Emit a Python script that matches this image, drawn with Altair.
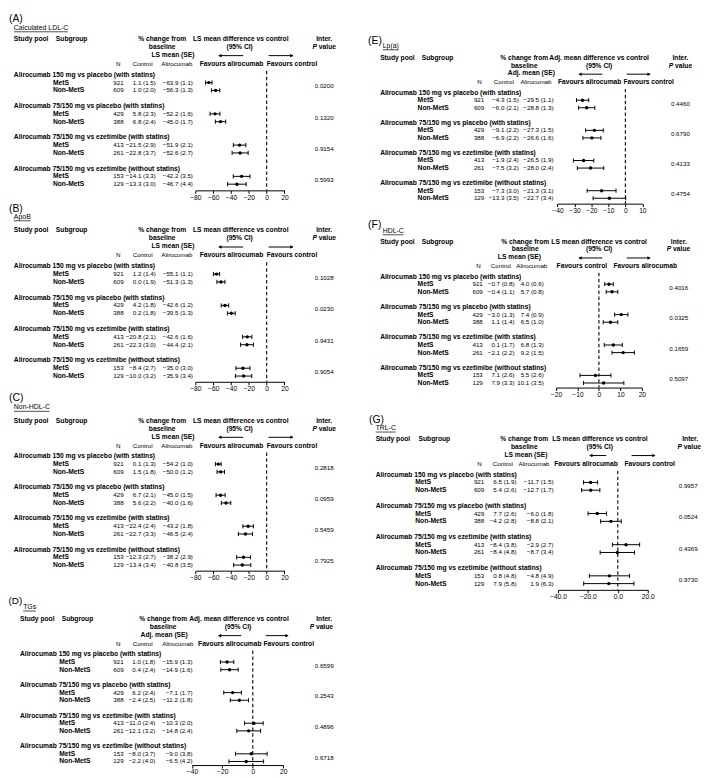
import altair as alt
import pandas as pd

# ---------------------------------------------------------------- data
GROUPS = ["Alirocumab 150 mg vs placebo (with statins)",
          "Alirocumab 75/150 mg vs placebo (with statins)",
          "Alirocumab 75/150 mg vs ezetimibe (with statins)",
          "Alirocumab 75/150 mg vs ezetimibe (without statins)"]
SUBGROUPS = ["MetS", "Non-MetS"]
N = [921, 609, 429, 388, 413, 261, 153, 129]

# (A) Calculated LDL-C
LDL_CONTROL = ["1.1 (1.5)", "1.0 (2.0)", "5.8 (2.3)", "6.8 (2.4)", "−21.5 (2.9)", "−22.8 (3.7)", "−14.1 (3.3)", "−13.3 (3.0)"]
LDL_ALIRO = ["−63.9 (1.1)", "−56.3 (1.3)", "−52.2 (1.6)", "−45.0 (1.7)", "−51.9 (2.1)", "−52.6 (2.7)", "−42.2 (3.5)", "−46.7 (4.4)"]
LDL_DIFF = [-65.0, -57.3, -58.0, -51.8, -30.4, -29.8, -28.1, -33.4]
LDL_LO = [-68.6, -62.0, -63.5, -57.6, -37.4, -38.8, -37.5, -43.8]
LDL_HI = [-61.4, -52.6, -52.5, -46.0, -23.4, -20.8, -18.7, -23.0]
LDL_P = ["0.0200", "0.1320", "0.9154", "0.5993"]

# (B) ApoB
APOB_CONTROL = ["1.2 (1.4)", "0.0 (1.9)", "4.2 (1.8)", "0.2 (1.8)", "−20.8 (2.1)", "−22.3 (3.0)", "−8.4 (2.7)", "−10.0 (3.2)"]
APOB_ALIRO = ["−55.1 (1.1)", "−51.3 (1.3)", "−42.6 (1.2)", "−39.5 (1.3)", "−42.6 (1.6)", "−44.4 (2.1)", "−35.0 (3.0)", "−35.9 (3.4)"]
APOB_DIFF = [-56.3, -51.3, -46.8, -39.7, -21.8, -22.1, -26.6, -25.9]
APOB_LO = [-59.8, -55.8, -51.0, -44.1, -27.0, -29.3, -34.5, -35.1]
APOB_HI = [-52.8, -46.8, -42.6, -35.3, -16.6, -14.9, -18.7, -16.7]
APOB_P = ["0.1028", "0.0230", "0.9431", "0.9054"]

# (C) Non-HDL-C
NHDL_CONTROL = ["0.1 (1.3)", "1.5 (1.8)", "6.7 (2.1)", "5.6 (2.2)", "−22.4 (2.4)", "−22.7 (3.3)", "−12.3 (2.7)", "−13.4 (3.4)"]
NHDL_ALIRO = ["−54.2 (1.0)", "−50.0 (1.2)", "−45.0 (1.5)", "−40.0 (1.6)", "−43.2 (1.8)", "−46.5 (2.4)", "−38.2 (2.9)", "−40.8 (3.5)"]
NHDL_DIFF = [-54.3, -51.5, -51.7, -45.6, -20.8, -23.8, -25.9, -27.4]
NHDL_LO = [-57.5, -55.7, -56.8, -50.9, -26.7, -31.8, -33.7, -37.0]
NHDL_HI = [-51.1, -47.3, -46.6, -40.3, -14.9, -15.8, -18.1, -17.8]
NHDL_P = ["0.2818", "0.0959", "0.5459", "0.7925"]

# (D) TGs
TG_CONTROL = ["1.0 (1.8)", "0.4 (2.4)", "6.2 (2.4)", "−2.4 (2.5)", "−11.0 (2.4)", "−12.1 (3.2)", "−8.0 (3.7)", "−2.2 (4.0)"]
TG_ALIRO = ["−15.9 (1.3)", "−14.9 (1.6)", "−7.1 (1.7)", "−11.2 (1.8)", "−10.3 (2.0)", "−14.8 (2.4)", "−9.0 (3.8)", "−6.5 (4.2)"]
TG_DIFF = [-16.9, -15.3, -13.3, -8.8, 0.7, -2.7, -1.0, -4.3]
TG_LO = [-21.3, -21.0, -19.1, -14.8, -5.4, -10.5, -11.4, -15.7]
TG_HI = [-12.5, -9.6, -7.5, -2.8, 6.8, 5.1, 9.4, 7.1]
TG_P = ["0.6599", "0.2543", "0.4896", "0.6718"]

# (E) Lp(a)
LPA_CONTROL = ["−4.3 (1.5)", "−6.0 (2.1)", "−9.1 (2.2)", "−6.9 (2.2)", "−1.9 (2.4)", "−7.5 (3.2)", "−7.3 (3.0)", "−13.3 (3.5)"]
LPA_ALIRO = ["−29.5 (1.1)", "−28.8 (1.3)", "−27.3 (1.5)", "−26.6 (1.6)", "−26.5 (1.9)", "−28.0 (2.4)", "−21.3 (3.1)", "−22.7 (3.4)"]
LPA_DIFF = [-25.2, -22.8, -18.2, -19.7, -24.6, -20.5, -14.0, -9.4]
LPA_LO = [-28.8, -27.6, -23.4, -25.0, -30.6, -28.3, -22.5, -19.0]
LPA_HI = [-21.6, -18.0, -13.0, -14.4, -18.6, -12.7, -5.5, 0.2]
LPA_P = ["0.4460", "0.6790", "0.4133", "0.4754"]

# (F) HDL-C
HDL_CONTROL = ["−0.7 (0.8)", "−0.4 (1.1)", "−3.0 (1.3)", "1.1 (1.4)", "0.1 (1.7)", "−2.1 (2.2)", "7.1 (2.6)", "7.9 (3.3)"]
HDL_ALIRO = ["4.0 (0.6)", "5.7 (0.8)", "7.4 (0.9)", "6.5 (1.0)", "6.8 (1.3)", "9.2 (1.5)", "5.5 (2.6)", "10.1 (3.5)"]
HDL_DIFF = [4.7, 6.1, 10.4, 5.4, 6.7, 11.3, -1.6, 2.2]
HDL_LO = [2.7, 3.4, 7.3, 2.0, 2.5, 6.1, -8.8, -7.2]
HDL_HI = [6.7, 8.8, 13.5, 8.8, 10.9, 16.5, 5.6, 11.6]
HDL_P = ["0.4016", "0.0325", "0.1659", "0.5097"]

# (G) TRL-C
TRL_CONTROL = ["6.5 (1.9)", "5.4 (2.6)", "7.7 (2.6)", "−4.2 (2.8)", "−8.4 (3.8)", "−8.4 (4.8)", "0.8 (4.8)", "7.9 (5.8)"]
TRL_ALIRO = ["−11.7 (1.5)", "−12.7 (1.7)", "−6.0 (1.8)", "−8.8 (2.1)", "−2.9 (2.7)", "−8.7 (3.4)", "−4.8 (4.9)", "1.9 (6.3)"]
TRL_DIFF = [-18.2, -18.1, -13.7, -4.6, 5.5, -0.3, -5.6, -6.0]
TRL_LO = [-22.9, -24.2, -19.9, -11.5, -3.6, -11.8, -19.0, -22.8]
TRL_HI = [-13.5, -12.0, -7.5, 2.3, 14.6, 11.2, 7.8, 10.8]
TRL_P = ["0.9957", "0.0524", "0.4369", "0.9730"]

# axis ticks
TICKS_80 = [-80, -60, -40, -20, 0, 20]
TICKS_TG = [-40, -20, 0, 20]
TICKS_LPA = [-40, -30, -20, -10, 0, 10]
TICKS_HDL = [-20, -10, 0, 10, 20]
TICKS_TRL = [-40, -20, 0, 20]

LS_MEAN = "LS mean (SE)"
ADJ_MEAN = "Adj. mean (SE)"
LS_DIFF = "LS mean difference vs control"
ADJ_DIFF = "Adj. mean difference vs control"
FAV_A = "Favours alirocumab"
FAV_C = "Favours control"

# ---------------------------------------------------------------- layout
FONT = "Liberation Sans"
FS = 6.3      # numbers / regular table text
FSB = 6.8     # bold headings
LABEL_FS = 10.5
W, H = 701, 770
SX, SY = 0.99, 0.991


def X(v):
    return round((v - 2.0) * SX, 2)


def Y(v):
    return round((v - 1.0) * SY, 2)


H1, H2, H3, ARR, COL, DASH = -4.58, -3.57, -2.55, -2.45, -1.37, -0.5
ROWS = [4 * g + k + 1 for g in range(4) for k in range(2)]
GROUP_ROWS = [4 * g for g in range(4)]
P_ROWS = [4 * g + 1.5 for g in range(4)]

LEFT = dict(label_x=2, label_fs=LABEL_FS, title_x=7, study_x=7, subgroup_x=50, pct_c=159, base_c=159, mean_c=170,
            big_c=239.5, ci_c=238.3, arrL=(217, 242), arrR=(268, 293), inter_c=325, pval_c=325,
            n_hdr=114, ctrl_hdr=139, aliro_hdr=174, fav1_c=230, fav2_c=292,
            grp_x=7, sub_x=47, n_r=119.5, ctrl_r=152.5, aliro_r=190.5, p_c=325, xr=(193, 284.3))
LAY_A = dict(LEFT, y0=61.7, unit=8.0, label_row=-7.1, title_row=-6.0, axis=14.79)
LAY_B = dict(LEFT, y0=257.7, unit=8.03, label_row=-7.3, title_row=-6.3, axis=14.73)
LAY_C = dict(LEFT, y0=452.3, unit=7.95, label_row=-7.55, title_row=-6.3, axis=14.72)
LAY_D = dict(label_x=1.5, label_fs=10, title_x=16.5, study_x=13.3, subgroup_x=56, pct_c=160, base_c=160, mean_c=161,
             big_c=237.7, ci_c=236.7, arrL=(216.7, 240), arrR=(265, 288), inter_c=325, pval_c=322,
             n_hdr=114, ctrl_hdr=139, aliro_hdr=175, fav1_c=228.3, fav2_c=288.7,
             grp_x=13.3, sub_x=53.5, n_r=119.5, ctrl_r=152, aliro_r=190, p_c=325, xr=(189.5, 283),
             y0=655, unit=7.83, label_row=-7.0, title_row=-6.17, axis=14.47)
LAY_E = dict(label_x=370, label_fs=LABEL_FS, title_x=385, study_x=382.3, subgroup_x=425, pct_c=530, base_c=530, mean_c=537.3,
             big_c=606.7, ci_c=606.7, arrL=(586, 610), arrR=(635, 659), inter_c=690, pval_c=690,
             n_hdr=484, ctrl_hdr=509, aliro_hdr=542, fav1_c=597, fav2_c=657.5,
             grp_x=382.3, sub_x=420.7, n_r=489, ctrl_r=524.5, aliro_r=560, p_c=690, xr=(564, 651),
             y0=80, unit=7.72, label_row=-6.9, title_row=-6.18, axis=14.72)
LAY_F = dict(label_x=370, label_fs=LABEL_FS, title_x=385, study_x=382.3, subgroup_x=425, pct_c=531, base_c=531, mean_c=525,
             big_c=606.7, ci_c=606.7, arrL=(586, 610), arrR=(635, 659), inter_c=688.3, pval_c=688,
             n_hdr=483, ctrl_hdr=506, aliro_hdr=537.7, fav1_c=589, fav2_c=654,
             grp_x=382.3, sub_x=420.7, n_r=487.5, ctrl_r=520, aliro_r=550, p_c=688.3, xr=(562.5, 650.5),
             y0=268.3, unit=7.78, label_row=-6.8, title_row=-6.0, axis=14.6)
LAY_G = dict(label_x=371, label_fs=LABEL_FS, title_x=377.7, study_x=377.7, subgroup_x=421.7, pct_c=530, base_c=530, mean_c=531.7,
             big_c=607.5, ci_c=607.3, arrL=(597, 614), arrR=(640, 664), inter_c=700, pval_c=699,
             n_hdr=484, ctrl_hdr=508, aliro_hdr=540, fav1_c=593.3, fav2_c=658.5,
             grp_x=377.7, sub_x=418.3, n_r=489, ctrl_r=522, aliro_r=560, p_c=698, xr=(564.5, 656.5),
             y0=471, unit=7.97, label_row=-7.0, title_row=-5.97, axis=14.8)

ARIAL = {'C': 722, 'a': 556, 'l': 222, 'c': 500, 'u': 556, 't': 278, 'e': 556, 'd': 556, ' ': 278,
         'L': 556, 'D': 722, '-': 333, 'A': 667, 'p': 556, 'o': 556, 'B': 667, 'N': 722, 'n': 556,
         'H': 722, 'T': 611, 'G': 778, 's': 500, '(': 333, ')': 333, 'R': 722}


def text_width(s, size):
    return sum(ARIAL.get(c, 556) for c in s) / 1000.0 * size


def build_panel(L, label, title, mean_lbl, big_lbl, fav, domain, ticks, fmt,
                ctrl, aliro, diff, lo, hi, pvals):
    y0, u = L["y0"], L["unit"]
    ysc = alt.Scale(domain=[-9, 16], range=[Y(y0 - 9 * u), Y(y0 + 16 * u)], nice=False, zero=False)
    xsc = alt.Scale(domain=domain, range=[X(L["xr"][0]), X(L["xr"][1])], nice=False, zero=False)
    axis_ref = y0 + L["axis"] * u
    axis = alt.Axis(orient="bottom", offset=round(Y(axis_ref) - H, 2), values=ticks, format=fmt,
                    title=None, grid=False, domainColor="black", domainWidth=1, tickColor="black",
                    tickWidth=1, tickSize=3, labelFontSize=FSB, labelFont=FONT, labelColor="black",
                    labelPadding=1, labelFlush=False, labelOverlap=False)
    layers = []

    def yenc(f="row"):
        return alt.Y(f"{f}:Q", scale=ysc, axis=None)

    def xenc(f):
        return alt.X(f"{f}:Q", scale=xsc, axis=axis)

    def text(rows, texts, x, align="left", bold=False, size=FS, italic=False):
        df = pd.DataFrame({"row": list(rows), "t": [str(t) for t in texts]})
        props = dict(align=align, baseline="middle", font=FONT, fontSize=size, color="black",
                     fontWeight="bold" if bold else "normal")
        if italic:
            props["fontStyle"] = "italic"
        layers.append(alt.Chart(df).mark_text(**props).encode(
            x=alt.value(X(x)), y=yenc(), text="t:N"))

    def hline(row, x0, x1, width=1.0):
        df = pd.DataFrame({"row": [row]})
        layers.append(alt.Chart(df).mark_rule(color="black", strokeWidth=width).encode(
            x=alt.value(X(x0)), x2=alt.value(X(x1)), y=yenc()))

    def head(row, x, shape):
        df = pd.DataFrame({"row": [row]})
        layers.append(alt.Chart(df).mark_point(shape=shape, filled=True, size=13, color="black",
                                               opacity=1, strokeWidth=0).encode(
            x=alt.value(X(x)), y=yenc()))

    # panel label + title
    text([L["label_row"]], [label], L["label_x"], size=L["label_fs"])
    text([L["title_row"]], [title], L["title_x"], size=7)
    hline(L["title_row"] + 0.5, L["title_x"], L["title_x"] + text_width(title, 7), width=0.7)

    # header block
    text([H1], ["Study pool"], L["study_x"], bold=True, size=FSB)
    text([H1], ["Subgroup"], L["subgroup_x"], bold=True, size=FSB)
    text([H1], ["% change from"], L["pct_c"], align="center", bold=True, size=FSB)
    text([H2], ["baseline"], L["base_c"], align="center", bold=True, size=FSB)
    text([H3], [mean_lbl], L["mean_c"], align="center", bold=True, size=FSB)
    text([H1], [big_lbl], L["big_c"], align="center", bold=True, size=FSB)
    text([H2], ["(95% CI)"], L["ci_c"], align="center", bold=True, size=FSB)
    text([H1], ["Inter."], L["inter_c"], align="center", bold=True, size=FSB)
    pv_w = (667 + 278 + 556 + 556 + 278 + 611 + 556) / 1000.0 * FSB
    start = L["pval_c"] - pv_w / 2
    text([H2], ["P"], start, bold=True, italic=True, size=FSB)
    text([H2], ["value"], start + (667 + 278) / 1000.0 * FSB, bold=True, size=FSB)

    # arrows
    hline(ARR, L["arrL"][0], L["arrL"][1])
    head(ARR, L["arrL"][0] + 1.2, "triangle-left")
    hline(ARR, L["arrR"][0], L["arrR"][1])
    head(ARR, L["arrR"][1] - 1.2, "triangle-right")

    # column headers
    text([COL], ["N"], L["n_hdr"], align="center")
    text([COL], ["Control"], L["ctrl_hdr"], align="center")
    text([COL], ["Alirocumab"], L["aliro_hdr"], align="center")
    text([COL], [fav[0]], L["fav1_c"], align="center", bold=True, size=FSB)
    text([COL], [fav[1]], L["fav2_c"], align="center", bold=True, size=FSB)

    # table body
    text(GROUP_ROWS, GROUPS, L["grp_x"], bold=True, size=FSB)
    text(ROWS, SUBGROUPS * 4, L["sub_x"], bold=True, size=FSB)
    text(ROWS, N, L["n_r"], align="right")
    text(ROWS, ctrl, L["ctrl_r"], align="right")
    text(ROWS, aliro, L["aliro_r"], align="right")
    text(P_ROWS, pvals, L["p_c"], align="center")

    # forest plot (every x-encoded layer carries the same axis definition)
    zdf = pd.DataFrame({"x": [0], "ya": [DASH], "yb": [L["axis"]]})
    layers.append(alt.Chart(zdf).mark_rule(color="black", strokeDash=[3.5, 2.5], strokeWidth=1.1).encode(
        x=xenc("x"), y=yenc("ya"), y2="yb:Q"))
    fdf = pd.DataFrame({"row": ROWS, "diff": diff, "lo": lo, "hi": hi})
    layers.append(alt.Chart(fdf).mark_rule(color="black", strokeWidth=1).encode(
        x=xenc("lo"), x2="hi:Q", y=yenc()))
    layers.append(alt.Chart(fdf).transform_fold(["lo", "hi"], as_=["k", "cx"]).transform_calculate(
        ya="datum.row - 0.27", yb="datum.row + 0.27").mark_rule(color="black", strokeWidth=1).encode(
        x=xenc("cx"), y=yenc("ya"), y2="yb:Q"))
    layers.append(alt.Chart(fdf).mark_point(shape="circle", filled=True, size=12, color="black",
                                            opacity=1).encode(
        x=xenc("diff"), y=yenc()))
    return alt.layer(*layers)


panels = [
    build_panel(LAY_A, "(A)", "Calculated LDL-C", LS_MEAN, LS_DIFF, (FAV_A, FAV_C), [-80, 20], TICKS_80, "d",
                LDL_CONTROL, LDL_ALIRO, LDL_DIFF, LDL_LO, LDL_HI, LDL_P),
    build_panel(LAY_B, "(B)", "ApoB", LS_MEAN, LS_DIFF, (FAV_A, FAV_C), [-80, 20], TICKS_80, "d",
                APOB_CONTROL, APOB_ALIRO, APOB_DIFF, APOB_LO, APOB_HI, APOB_P),
    build_panel(LAY_C, "(C)", "Non-HDL-C", LS_MEAN, LS_DIFF, (FAV_A, FAV_C), [-80, 20], TICKS_80, "d",
                NHDL_CONTROL, NHDL_ALIRO, NHDL_DIFF, NHDL_LO, NHDL_HI, NHDL_P),
    build_panel(LAY_D, "(D)", "TGs", ADJ_MEAN, ADJ_DIFF, (FAV_A, FAV_C), [-40, 20], TICKS_TG, "d",
                TG_CONTROL, TG_ALIRO, TG_DIFF, TG_LO, TG_HI, TG_P),
    build_panel(LAY_E, "(E)", "Lp(a)", ADJ_MEAN, ADJ_DIFF, (FAV_A, FAV_C), [-40, 10], TICKS_LPA, "d",
                LPA_CONTROL, LPA_ALIRO, LPA_DIFF, LPA_LO, LPA_HI, LPA_P),
    build_panel(LAY_F, "(F)", "HDL-C", LS_MEAN, LS_DIFF, (FAV_C, FAV_A), [-20, 20], TICKS_HDL, "d",
                HDL_CONTROL, HDL_ALIRO, HDL_DIFF, HDL_LO, HDL_HI, HDL_P),
    build_panel(LAY_G, "(G)", "TRL-C", LS_MEAN, LS_DIFF, (FAV_A, FAV_C), [-40, 20], TICKS_TRL, ".1f",
                TRL_CONTROL, TRL_ALIRO, TRL_DIFF, TRL_LO, TRL_HI, TRL_P),
]

chart = alt.layer(*panels).resolve_scale(x="independent", y="independent").properties(
    width=W, height=H, padding=0, background="white"
).configure_view(stroke=None)

chart.save("out.html", embed_options={"renderer": "svg", "actions": False})
